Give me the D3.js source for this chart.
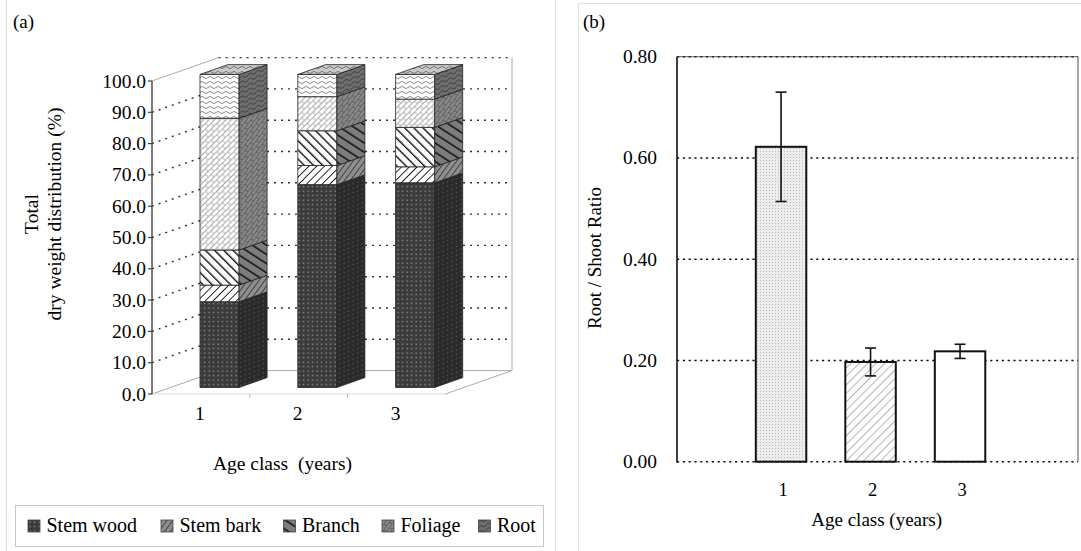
<!DOCTYPE html>
<html lang="en">
<head>
<meta charset="utf-8">
<title>Biomass distribution and root/shoot ratio</title>
<script src="https://cdn.jsdelivr.net/npm/d3@7"></script>
<style>
  body { margin: 0; background: #fff; }
  .dots { fill: none; stroke: #333; stroke-width: 1.4; stroke-dasharray: 2,5; }
  .frame { fill: none; stroke: #aaa; stroke-width: 1; }
</style>
</head>
<body>
<div id="chart"></div>
<script>
// ---- data ----
var ages = ["1", "2", "3"];
var components = ["Stem wood", "Stem bark", "Branch", "Foliage", "Root"];
var stemWood = [27.4, 64.8, 65.4];
var stemBark = [5.3, 6.1, 5.1];
var branch = [11.2, 11.1, 12.6];
var foliage = [42.1, 10.9, 9.0];
var root = [14.0, 7.1, 7.9];
var pctTicks = [0, 10, 20, 30, 40, 50, 60, 70, 80, 90, 100];

var ratio = [0.622, 0.197, 0.218];
var ratioErr = [0.108, 0.0275, 0.014];
var ratioTicks = [0, 0.2, 0.4, 0.6, 0.8];

var W = 1081, H = 551;

var svg = d3.select("#chart").append("svg")
  .attr("width", W)
  .attr("height", H)
  .attr("font-family", "'Liberation Serif', 'Times New Roman', 'DejaVu Serif', serif")
  .style("display", "block");

var defs = svg.append("defs");

// pattern helper
function pat(id, size, bg, draw, transform) {
  var p = defs.append("pattern")
    .attr("id", id)
    .attr("patternUnits", "userSpaceOnUse")
    .attr("width", size[0])
    .attr("height", size[1]);
  if (transform) p.attr("patternTransform", transform);
  p.append("rect").attr("width", size[0]).attr("height", size[1]).attr("fill", bg);
  draw(p);
}
function dots(col, r) {
  return function (p) {
    p.append("rect").attr("x", 1.5).attr("y", 1.5).attr("width", r).attr("height", r).attr("fill", col);
  };
}
function stripe(col, w) {
  return function (p) {
    p.append("line").attr("x1", 0).attr("y1", 0).attr("x2", 0).attr("y2", 20)
      .attr("stroke", col).attr("stroke-width", w);
  };
}
function brick(col) {
  return function (p) {
    p.append("path").attr("d", "M0,0.5H8M0,4.5H8M2,0.5V4.5M6,4.5V8.5")
      .attr("stroke", col).attr("stroke-width", 0.8).attr("fill", "none");
  };
}
function waves(col) {
  return function (p) {
    p.append("path").attr("d", "M0,2.5 Q2,0.3 4,2.5 T8,2.5")
      .attr("stroke", col).attr("stroke-width", 0.9).attr("fill", "none");
  };
}

var skew = "skewY(-19.4)";
// front faces
pat("woodF", [4.5, 4.5], "#3b3b3b", dots("#9c9c9c", 1.3));
pat("barkF", [5.5, 20], "#fff", stripe("#111", 1.8), "rotate(45)");
pat("branchF", [6.5, 20], "#fff", stripe("#111", 2.8), "rotate(-45)");
pat("foliageF", [8, 8], "#fff", brick("#9a9a9a"), "rotate(-45)");
pat("rootF", [8, 5], "#fff", waves("#7a7a7a"));
// side faces
pat("woodS", [4.5, 4.5], "#2a2a2a", dots("#5c5c5c", 1.2), skew);
pat("barkS", [5.5, 20], "#8e8e8e", stripe("#222", 1.6), skew + " rotate(45)");
pat("branchS", [6.5, 20], "#7c7c7c", stripe("#111", 2.6), skew + " rotate(-45)");
pat("foliageS", [8, 8], "#8a8a8a", brick("#555"), skew + " rotate(-45)");
pat("rootS", [8, 5], "#6e6e6e", waves("#3a3a3a"), skew);
// top face
pat("rootT", [8, 5], "#c9c9c9", waves("#6a6a6a"));
// panel (b)
pat("stipple", [3, 3], "#ececec", function (p) {
  p.append("rect").attr("x", 1).attr("y", 1).attr("width", 1).attr("height", 1).attr("fill", "#b8b8b8");
});
pat("hatchB", [6, 20], "#fff", stripe("#777", 1.1), "rotate(45)");

var frontFill = ["url(#woodF)", "url(#barkF)", "url(#branchF)", "url(#foliageF)", "url(#rootF)"];
var sideFill = ["url(#woodS)", "url(#barkS)", "url(#branchS)", "url(#foliageS)", "url(#rootS)"];

// faint scan borders
svg.append("line").attr("x1", 6.5).attr("x2", 6.5).attr("y1", 0).attr("y2", H).attr("stroke", "#ddd");
svg.append("line").attr("x1", 555.5).attr("x2", 555.5).attr("y1", 0).attr("y2", H).attr("stroke", "#e2e2e2");
svg.append("line").attr("x1", 578.5).attr("x2", 578.5).attr("y1", 3).attr("y2", H).attr("stroke", "#e2e2e2");
svg.append("line").attr("x1", 578).attr("x2", W).attr("y1", 3.5).attr("y2", 3.5).attr("stroke", "#e2e2e2");

// =================== panel (a) ===================
var gA = svg.append("g");

var yA = d3.scaleLinear().domain([0, 100]).range([394, 81]);
var xA = d3.scaleBand().domain(ages).range([152, 445.4]).paddingInner(0.6).paddingOuter(0.3);
var DX = 66.6, DY = 23.4, z0 = 0.28, z1 = 0.70;
function P(xf, v, z) { return [xf + z * DX, yA(v) - z * DY]; }
function poly(pts) { return "M" + pts.map(function (p) { return p.join(","); }).join("L") + "Z"; }

var xL = xA.range()[0], xR = xA.range()[1];
var bx0 = xL + DX, by = function (v) { return yA(v) - DY; };

// walls
gA.append("path").attr("class", "frame").attr("stroke", "#999")
  .attr("d", "M" + xL + "," + yA(100) + "L" + bx0 + "," + by(100));
gA.append("path").attr("class", "frame").attr("stroke", "#bbb")
  .attr("d", "M" + xL + "," + yA(0) + "L" + bx0 + "," + by(0) + "L" + (xR + DX) + "," + by(0) +
    "L" + xR + "," + yA(0));
gA.append("path").attr("class", "frame").attr("stroke", "#c4c4c4")
  .attr("d", "M" + (xR + DX) + "," + by(0) + "L" + (xR + DX) + "," + by(100));
gA.append("path").attr("class", "dots").attr("stroke", "#aaa").attr("stroke-width", 1)
  .attr("d", "M" + bx0 + "," + by(100) + "L" + (xR + DX) + "," + by(100));
gA.append("path").attr("fill", "none").attr("stroke", "#ddd")
  .attr("d", "M" + xL + "," + yA(0) + "L" + xR + "," + yA(0));

// gridlines on side and back walls
gA.selectAll(".gridA").data(pctTicks.slice(1, -1)).join("path")
  .attr("class", "dots")
  .attr("d", function (v) {
    return "M" + xL + "," + yA(v) + "L" + bx0 + "," + by(v) + "L" + (xR + DX) + "," + by(v);
  });

// category ticks on floor front edge
gA.selectAll(".ctick").data(ages.slice(1)).join("line")
  .attr("x1", function (d) { return xA(d) - xA.step() * xA.paddingInner() / 2; })
  .attr("x2", function (d) { return xA(d) - xA.step() * xA.paddingInner() / 2; })
  .attr("y1", yA(0)).attr("y2", yA(0) + 4)
  .attr("stroke", "#bbb");

// y axis
gA.append("line").attr("x1", xL).attr("x2", xL).attr("y1", yA(0)).attr("y2", yA(100))
  .attr("stroke", "#444").attr("stroke-width", 1.4);
gA.selectAll(".ytA").data(pctTicks).join("line")
  .attr("x1", xL - 4).attr("x2", xL).attr("y1", yA).attr("y2", yA)
  .attr("stroke", "#444").attr("stroke-width", 1.2);
gA.selectAll(".ylA").data(pctTicks).join("text")
  .attr("x", xL - 6).attr("y", function (d) { return yA(d) + 6.5; })
  .attr("text-anchor", "end").attr("font-size", 19.5)
  .text(function (d) { return d.toFixed(1); });

// stacked bars
var table = ages.map(function (a, i) {
  return { age: a, "Stem wood": stemWood[i], "Stem bark": stemBark[i], "Branch": branch[i],
           "Foliage": foliage[i], "Root": root[i] };
});
var stacked = d3.stack().keys(components)(table);

ages.forEach(function (a, i) {
  var x0 = xA(a), x1 = xA(a) + xA.bandwidth();
  var g = gA.append("g");
  stacked.forEach(function (layer, k) {
    var v0 = layer[i][0], v1 = layer[i][1];
    g.append("path")
      .attr("d", poly([P(x0, v0, z0), P(x1, v0, z0), P(x1, v1, z0), P(x0, v1, z0)]))
      .attr("fill", frontFill[k]).attr("stroke", "#222").attr("stroke-width", 0.8);
    g.append("path")
      .attr("d", poly([P(x1, v0, z0), P(x1, v0, z1), P(x1, v1, z1), P(x1, v1, z0)]))
      .attr("fill", sideFill[k]).attr("stroke", "#222").attr("stroke-width", 0.8);
    if (k === components.length - 1) {
      g.append("path")
        .attr("d", poly([P(x0, v1, z0), P(x1, v1, z0), P(x1, v1, z1), P(x0, v1, z1)]))
        .attr("fill", "url(#rootT)").attr("stroke", "#222").attr("stroke-width", 0.8);
    }
  });
});

// category labels
gA.selectAll(".xlA").data(ages).join("text")
  .attr("x", function (d) { return xA(d) + xA.bandwidth() / 2 - 1; })
  .attr("y", 420)
  .attr("text-anchor", "middle").attr("font-size", 19.5)
  .text(function (d) { return d; });

gA.append("text").attr("x", 282.5).attr("y", 470).attr("text-anchor", "middle")
  .attr("font-size", 19.5).attr("xml:space", "preserve").text("Age class  (years)");

gA.append("text").attr("transform", "translate(38,214) rotate(-90)")
  .attr("text-anchor", "middle").attr("font-size", 19.5).text("Total");
gA.append("text").attr("transform", "translate(61,214) rotate(-90)")
  .attr("text-anchor", "middle").attr("font-size", 19.5).text("dry weight distribution (%)");

gA.append("text").attr("x", 13).attr("y", 28).attr("font-size", 19).text("(a)");

// legend
var legend = gA.append("g");
legend.append("rect").attr("x", 15.5).attr("y", 505.5).attr("width", 528).attr("height", 41)
  .attr("fill", "none").attr("stroke", "#c8c8c8");
var legX = [28, 161, 283.5, 382, 478.5];
var legItem = legend.selectAll(".leg").data(components).join("g")
  .attr("transform", function (d, i) { return "translate(" + legX[i] + ",520)"; });
legItem.append("rect").attr("width", 12).attr("height", 12)
  .attr("fill", function (d, i) { return i === 0 ? frontFill[0] : sideFill[i]; })
  .attr("stroke", "#444").attr("stroke-width", 0.8);
legItem.append("text").attr("x", 18.5).attr("y", 12)
  .attr("font-size", 20).text(function (d) { return d; });

// =================== panel (b) ===================
var gB = svg.append("g");
var yB = d3.scaleLinear().domain([0, 0.8]).range([461.7, 56.7]);
var xB = d3.scaleBand().domain(ages).range([736.3, 1004.8]).paddingInner(0.436).paddingOuter(0.218);
var left = 677, right = 1078;

gB.selectAll(".gridB").data(ratioTicks).join("line")
  .attr("x1", left).attr("x2", right)
  .attr("y1", yB).attr("y2", yB)
  .attr("stroke", "#111").attr("stroke-width", 1.6).attr("stroke-dasharray", "2.2,3.6");
gB.append("line").attr("x1", left).attr("x2", right).attr("y1", yB(0.8)).attr("y2", yB(0.8))
  .attr("stroke", "#333").attr("stroke-width", 0.8);
gB.append("line").attr("x1", left).attr("x2", left).attr("y1", yB(0) + 1).attr("y2", yB(0.8))
  .attr("stroke", "#111").attr("stroke-width", 1.6);
gB.append("line").attr("x1", right).attr("x2", right).attr("y1", yB(0)).attr("y2", yB(0.8))
  .attr("stroke", "#555").attr("stroke-width", 1);

gB.selectAll(".ylB").data(ratioTicks).join("text")
  .attr("x", 657).attr("y", function (d) { return yB(d) + 6.5; })
  .attr("text-anchor", "end").attr("font-size", 19.5)
  .text(function (d) { return d.toFixed(2); });

var barFill = ["url(#stipple)", "url(#hatchB)", "#fff"];
gB.selectAll(".barB").data(ratio).join("rect")
  .attr("x", function (d, i) { return xB(ages[i]); })
  .attr("y", function (d) { return yB(d); })
  .attr("width", xB.bandwidth())
  .attr("height", function (d) { return yB(0) - yB(d); })
  .attr("fill", function (d, i) { return barFill[i]; })
  .attr("stroke", "#111").attr("stroke-width", 2);

// error bars
var err = gB.selectAll(".err").data(ratio).join("g")
  .attr("transform", function (d, i) { return "translate(" + (xB(ages[i]) + xB.bandwidth() / 2) + ",0)"; });
err.append("line")
  .attr("y1", function (d, i) { return yB(d + ratioErr[i]); })
  .attr("y2", function (d, i) { return yB(d - ratioErr[i]); })
  .attr("stroke", "#111").attr("stroke-width", 1.6);
err.append("line").attr("x1", -5.5).attr("x2", 5.5)
  .attr("y1", function (d, i) { return yB(d + ratioErr[i]); })
  .attr("y2", function (d, i) { return yB(d + ratioErr[i]); })
  .attr("stroke", "#111").attr("stroke-width", 1.6);
err.append("line").attr("x1", -5.5).attr("x2", 5.5)
  .attr("y1", function (d, i) { return yB(d - ratioErr[i]); })
  .attr("y2", function (d, i) { return yB(d - ratioErr[i]); })
  .attr("stroke", "#111").attr("stroke-width", 1.6);

gB.selectAll(".xlB").data(ages).join("text")
  .attr("x", function (d) { return xB(d) + xB.bandwidth() / 2 + 2; })
  .attr("y", 496)
  .attr("text-anchor", "middle").attr("font-size", 18.5)
  .text(function (d) { return d; });

gB.append("text").attr("x", 876.7).attr("y", 526).attr("text-anchor", "middle")
  .attr("font-size", 19).text("Age class (years)");
gB.append("text").attr("transform", "translate(601,258) rotate(-90)")
  .attr("text-anchor", "middle").attr("font-size", 19).text("Root / Shoot Ratio");
gB.append("text").attr("x", 583).attr("y", 28).attr("font-size", 19).text("(b)");
</script>
</body>
</html>
